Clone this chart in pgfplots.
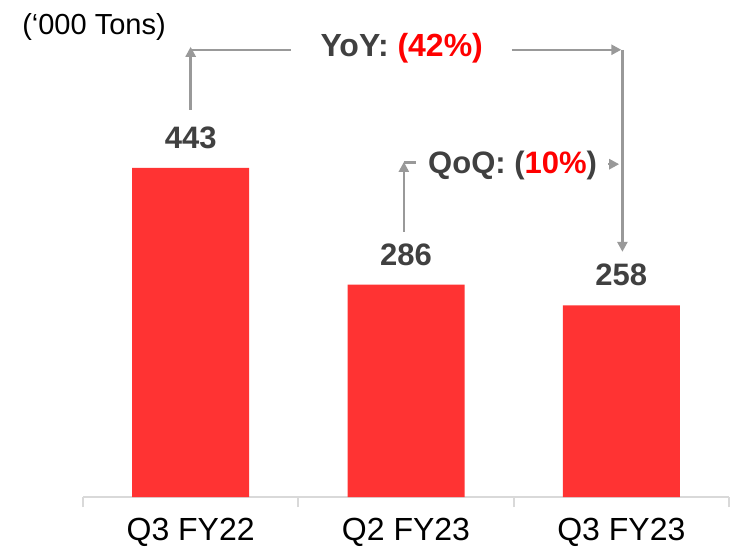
\documentclass[border=0pt]{standalone}
\usepackage{pgfplots}
\pgfplotsset{compat=1.18}
\usepackage{fontspec}
\setmainfont{Liberation Sans}
\usetikzlibrary{arrows.meta}

\definecolor{barred}{HTML}{FF3333}
\definecolor{lblgray}{HTML}{404040}
\definecolor{arrgray}{HTML}{999999}
\definecolor{axgray}{HTML}{D9D9D9}
\definecolor{pctred}{HTML}{FF0000}

\begin{document}
\begin{tikzpicture}
\path[use as bounding box] (0,0) rectangle (743pt,549pt);
\begin{axis}[
    at={(83pt,52pt)}, anchor=south west,
    scale only axis, width=646pt, height=497pt,
    xmin=-0.5, xmax=2.5, ymin=0, ymax=669,
    clip=false,
    axis y line=none, axis x line*=bottom,
    x axis line style={axgray, line width=2pt},
    xtick={0,1,2}, xticklabels={Q3 FY22,Q2 FY23,Q3 FY23},
    major tick length=0pt,
    minor xtick={-0.5,0.5,1.5,2.5}, minor tick length=10pt,
    tick align=outside,
    minor tick style={axgray, line width=2pt},
    xticklabel style={font=\fontsize{32}{38}\selectfont, yshift=-18pt},
    /pgf/number format/assume math mode=true,
    ybar, bar width=117pt,
    nodes near coords,
    nodes near coords style={font=\bfseries\fontsize{31}{36}\selectfont,
        text=lblgray, inner sep=0pt, yshift=19pt, anchor=south},
]
\addplot[fill=barred, draw=none] coordinates {(0,443) (1,286) (2,258)};

% unit label
\node[anchor=west, font=\fontsize{29}{34}\selectfont, inner sep=0pt]
    at (axis cs:-0.783,632) {(‘000 Tons)};

% YoY bracket
\draw[arrgray, line width=2.5pt, -{Triangle[length=10pt,width=10pt]}]
    (axis cs:0,521) -- (axis cs:0,606);
\draw[arrgray, line width=2.5pt] (axis cs:0,602) -- (axis cs:0.466,602);
\draw[arrgray, line width=2.5pt, -{Triangle[length=10pt,width=10pt]}]
    (axis cs:1.492,602) -- (axis cs:2.0,602);
\draw[arrgray, line width=2.5pt, -{Triangle[length=10pt,width=10pt]}]
    (axis cs:2.005,602) -- (axis cs:2.005,330);
\node[font=\bfseries\fontsize{32}{38}\selectfont, text=lblgray]
    at (axis cs:0.98,604) {YoY: \textcolor{pctred}{(42\%)}};

% QoQ bracket
\draw[arrgray, line width=2.5pt, -{Triangle[length=10pt,width=10pt]}]
    (axis cs:0.99,357) -- (axis cs:0.99,451);
\draw[arrgray, line width=2.5pt] (axis cs:0.99,450) -- (axis cs:1.047,450);
\draw[arrgray, line width=2.5pt, -{Triangle[length=10pt,width=10pt]}]
    (axis cs:1.94,448) -- (axis cs:1.99,448);
\node[font=\bfseries\fontsize{31}{36}\selectfont, text=lblgray]
    at (axis cs:1.495,446) {QoQ: (\textcolor{pctred}{10\%})};
\end{axis}
\end{tikzpicture}
\end{document}
